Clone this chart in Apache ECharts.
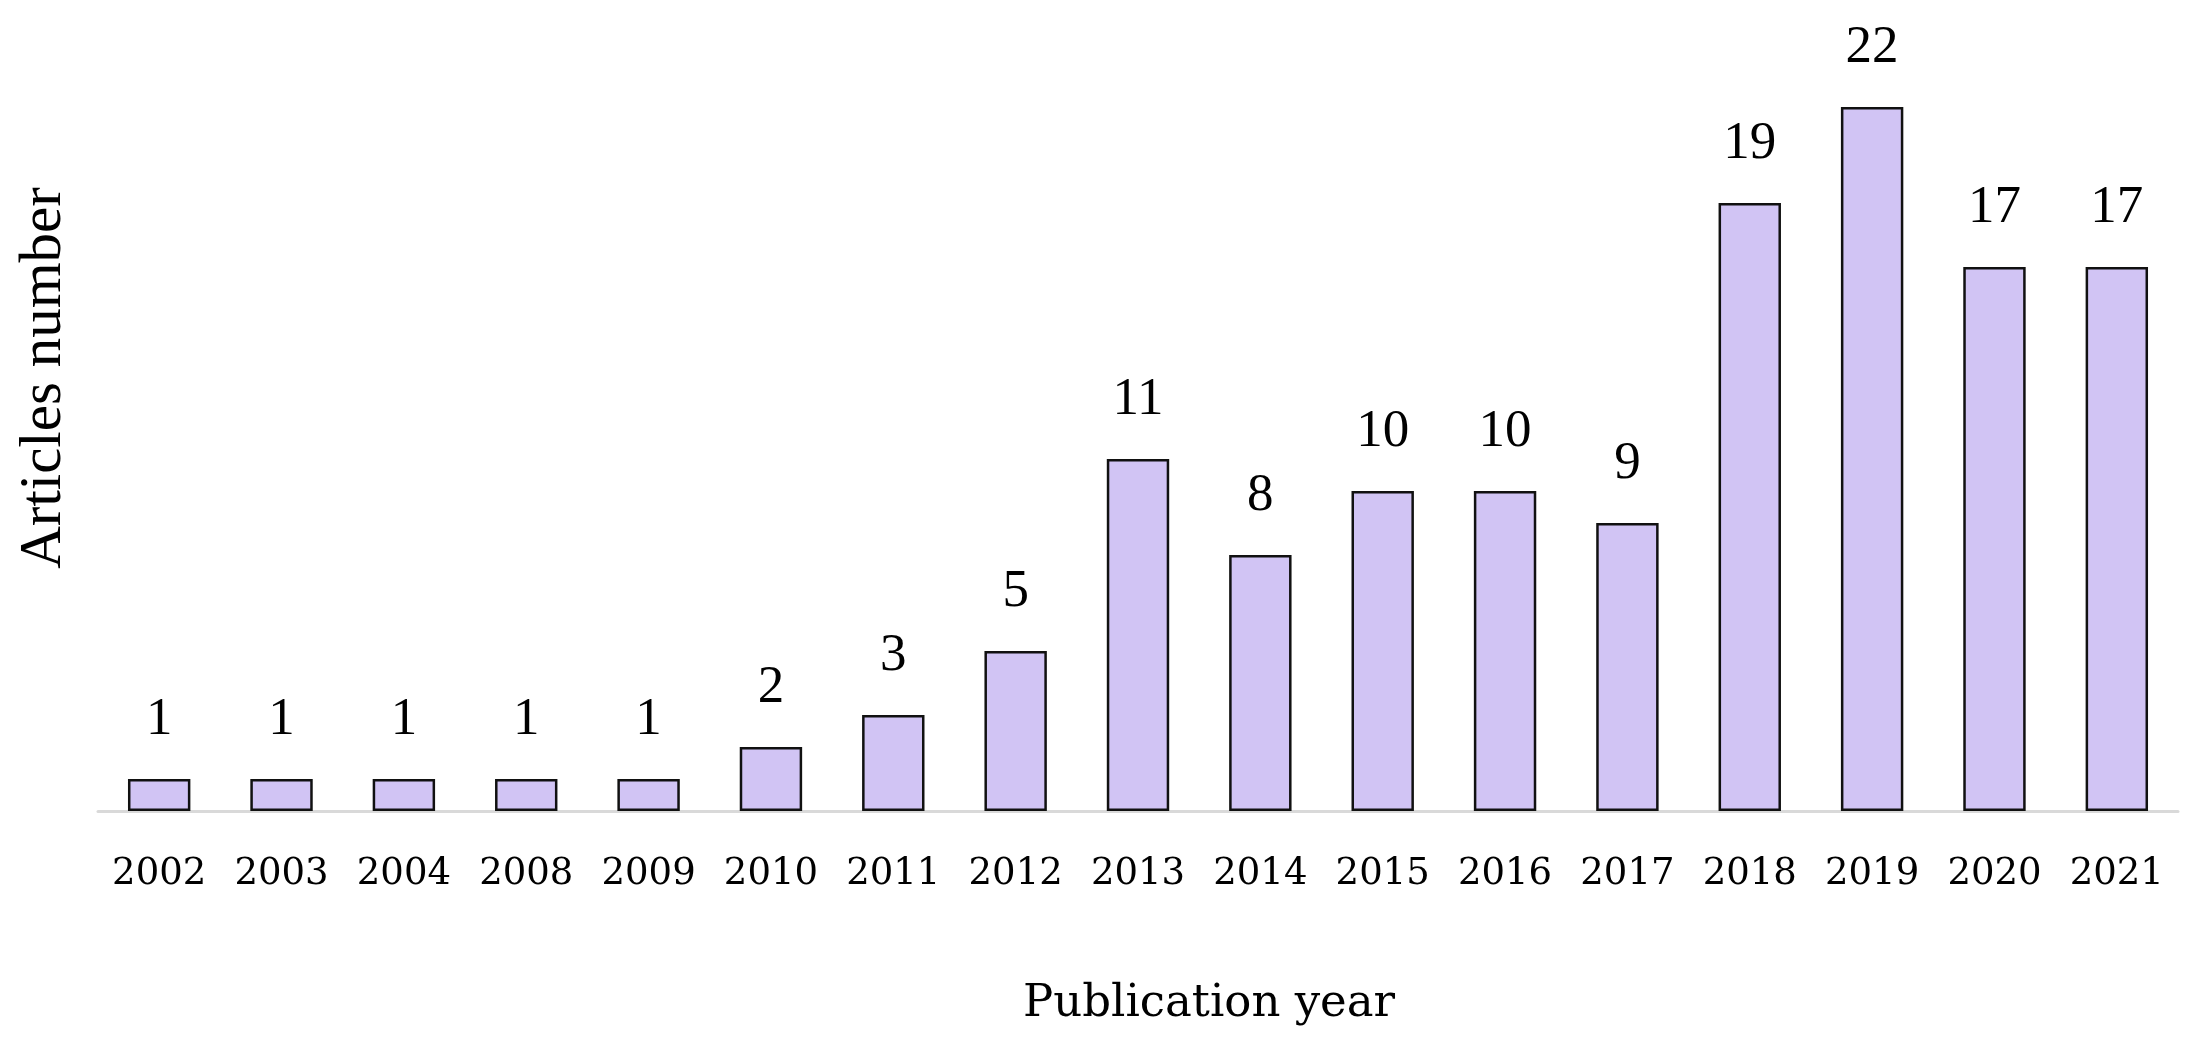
<!DOCTYPE html>
<html>
<head>
<meta charset="utf-8">
<title>Articles by publication year</title>
<script src="https://cdn.jsdelivr.net/npm/echarts@6/dist/echarts.min.js"></script>
<style>
  html, body { margin: 0; padding: 0; background: #fff; }
  #chart { width: 2208px; height: 1059px; }
</style>
</head>
<body>
<div id="chart"></div>
<script>
const years = ['2002', '2003', '2004', '2008', '2009', '2010', '2011', '2012', '2013',
  '2014', '2015', '2016', '2017', '2018', '2019', '2020', '2021'];
const articles = [1, 1, 1, 1, 1, 2, 3, 5, 11, 8, 10, 10, 9, 19, 22, 17, 17];

const chart = echarts.init(document.getElementById('chart'));

const option = {
  backgroundColor: '#fff',
  animation: false,
  grid: {
    left: 98,
    right: 30,
    top: 107,
    bottom: 248
  },
  xAxis: {
    type: 'category',
    data: years,
    axisLine: { lineStyle: { color: '#d9d9d9', width: 3 } },
    axisTick: { show: false },
    axisLabel: {
      interval: 0,
      margin: 45,
      fontFamily: 'DejaVu Serif',
      fontSize: 37,
      color: '#000'
    },
    name: 'Publication year',
    nameLocation: 'middle',
    nameGap: 171,
    nameTextStyle: {
      fontFamily: 'DejaVu Serif',
      fontSize: 45,
      color: '#000',
      padding: [0, 0, 0, 142]
    }
  },
  yAxis: {
    type: 'value',
    min: 0,
    max: 22,
    show: false
  },
  graphic: [{
    type: 'text',
    x: 44,
    y: 378,
    rotation: Math.PI / 2,
    style: {
      text: 'Articles number',
      fontFamily: 'Liberation Serif',
      fontSize: 59,
      fill: '#000',
      align: 'center',
      verticalAlign: 'middle'
    }
  }],
  series: [{
    type: 'bar',
    data: articles,
    barWidth: '51%',
    itemStyle: {
      color: '#d1c4f4',
      borderColor: '#111',
      borderWidth: 2.5
    },
    label: {
      show: true,
      position: 'top',
      distance: 32,
      fontFamily: 'Liberation Serif',
      fontSize: 53,
      color: '#000'
    }
  }]
};

chart.setOption(option);
window.addEventListener('resize', () => chart.resize());
</script>
</body>
</html>
